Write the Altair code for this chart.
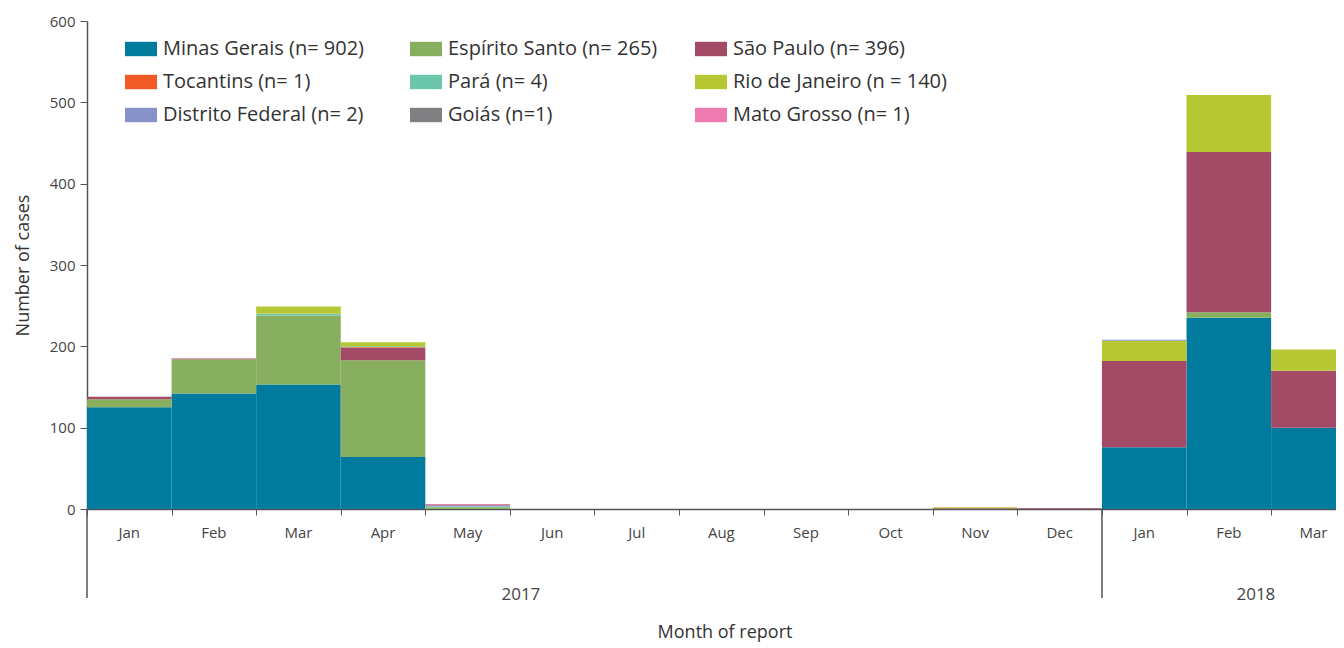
import altair as alt
import pandas as pd

months = ["Jan", "Feb", "Mar", "Apr", "May", "Jun", "Jul", "Aug", "Sep", "Oct", "Nov", "Dec",
          "Jan", "Feb", "Mar"]
years = ["2017", "2018"]
year_pos = [5.13, 13.82]
year_breaks = [0, 12]

states = ["Minas Gerais (n= 902)", "Espírito Santo (n= 265)", "São Paulo (n= 396)",
          "Tocantins (n= 1)", "Pará (n= 4)", "Rio de Janeiro (n = 140)",
          "Distrito Federal (n= 2)", "Goiás (n=1)", "Mato Grosso (n= 1)"]
colors = ["#007B9E", "#88AF5F", "#A34A67", "#F15A25", "#6BC6AC", "#B5C834",
          "#8792C8", "#808083", "#EF7AB0"]

minas_gerais = [125, 142, 153, 64, 0, 0, 0, 0, 0, 0, 0, 0, 76, 235, 100]
espirito_santo = [10, 42, 85, 119, 2, 0, 0, 0, 0, 0, 0, 0, 0, 7, 0]
sao_paulo = [3, 1, 0, 15, 0, 0, 0, 0, 0, 0, 1, 1, 106, 197, 70]
tocantins = [0, 0, 0, 1, 0, 0, 0, 0, 0, 0, 0, 0, 0, 0, 0]
para = [0, 0, 2, 1, 1, 0, 0, 0, 0, 0, 0, 0, 0, 0, 0]
rio_de_janeiro = [0, 0, 9, 5, 0, 0, 0, 0, 0, 0, 1, 0, 25, 70, 26]
distrito_federal = [0, 0, 0, 0, 1, 0, 0, 0, 0, 0, 0, 0, 1, 0, 0]
goias = [0, 0, 0, 0, 1, 0, 0, 0, 0, 0, 0, 0, 0, 0, 0]
mato_grosso = [0, 0, 0, 0, 1, 0, 0, 0, 0, 0, 0, 0, 0, 0, 0]

series = [minas_gerais, espirito_santo, sao_paulo, tocantins, para, rio_de_janeiro,
          distrito_federal, goias, mato_grosso]

rows = []
for si, (name, vals) in enumerate(zip(states, series)):
    for mi, v in enumerate(vals):
        rows.append({"state": name, "order": si, "start": mi, "end": mi + 1, "value": v})
df = pd.DataFrame(rows)

month_df = pd.DataFrame({"month": months, "pos": [i + 0.5 for i in range(len(months))]})
year_df = pd.DataFrame({"year": years, "pos": year_pos})
break_df = pd.DataFrame({"pos": year_breaks})

FONT = "Open Sans"
W = 1249
H = 488
XMAX = W / 84.58

xscale = alt.Scale(domain=[0, XMAX], nice=False, zero=False)
yscale = alt.Scale(domain=[0, 600], nice=False)

bars = alt.Chart(df).transform_stack(
    stack="value", groupby=["start"], as_=["y0", "y1"],
    sort=[alt.SortField("order", order="ascending")]
).mark_rect(clip=True).encode(
    x=alt.X("start:Q", scale=xscale,
            axis=alt.Axis(values=list(range(15)), labels=False, title=None, tickSize=6,
                          domainColor="#555", tickColor="#555", domainWidth=1.5,
                          grid=False)),
    x2="end:Q",
    y=alt.Y("y0:Q", scale=yscale,
            axis=alt.Axis(values=[0, 100, 200, 300, 400, 500, 600], tickSize=7,
                          labelPadding=5, labelFontSize=15, labelColor="#444",
                          labelFont=FONT, domainColor="#555", tickColor="#555",
                          domainWidth=1.5, grid=False,
                          title="Number of cases", titleFont=FONT, titleFontSize=18,
                          titleFontWeight="normal", titleColor="#333",
                          titleX=-64, titleY=H / 2, titleAngle=-90,
                          titleAlign="center", titleBaseline="middle")),
    y2="y1:Q",
    color=alt.Color("state:N", sort=states,
                    scale=alt.Scale(domain=states, range=colors),
                    legend=alt.Legend(title=None, orient="none", legendX=38, legendY=12,
                                      columns=3, direction="horizontal",
                                      gridAlign="all", columnPadding=33, rowPadding=7,
                                      labelFont=FONT, labelFontSize=20, labelColor="#333",
                                      labelLimit=400, labelOffset=6,
                                      symbolType="M-1,-0.45H1V0.45H-1Z", symbolSize=1024,
                                      symbolStrokeWidth=0, symbolOpacity=1)),
)

month_text = alt.Chart(month_df).mark_text(
    font=FONT, fontSize=15, color="#444", baseline="middle", align="center"
).encode(x=alt.X("pos:Q", scale=xscale), y=alt.value(512), text="month:N")

year_text = alt.Chart(year_df).mark_text(
    font=FONT, fontSize=17, color="#444", baseline="middle", align="center"
).encode(x=alt.X("pos:Q", scale=xscale), y=alt.value(574), text="year:N")

seps = alt.Chart(break_df).mark_rule(color="#555", strokeWidth=1.5).encode(
    x=alt.X("pos:Q", scale=xscale), y=alt.value(H), y2=alt.value(577))

xtitle = alt.Chart(pd.DataFrame({"t": ["Month of report"]})).mark_text(
    font=FONT, fontSize=18, color="#333", baseline="middle", align="center"
).encode(x=alt.value(638), y=alt.value(612), text="t:N")

chart = alt.layer(bars, seps, month_text, year_text, xtitle).properties(
    width=W, height=H,
    autosize=alt.AutoSizeParams(type="none"),
    padding={"left": 79, "top": 13, "right": 0, "bottom": 139},
).configure_view(stroke=None)

chart.save("out.html", embed_options={"renderer": "svg", "actions": False})
